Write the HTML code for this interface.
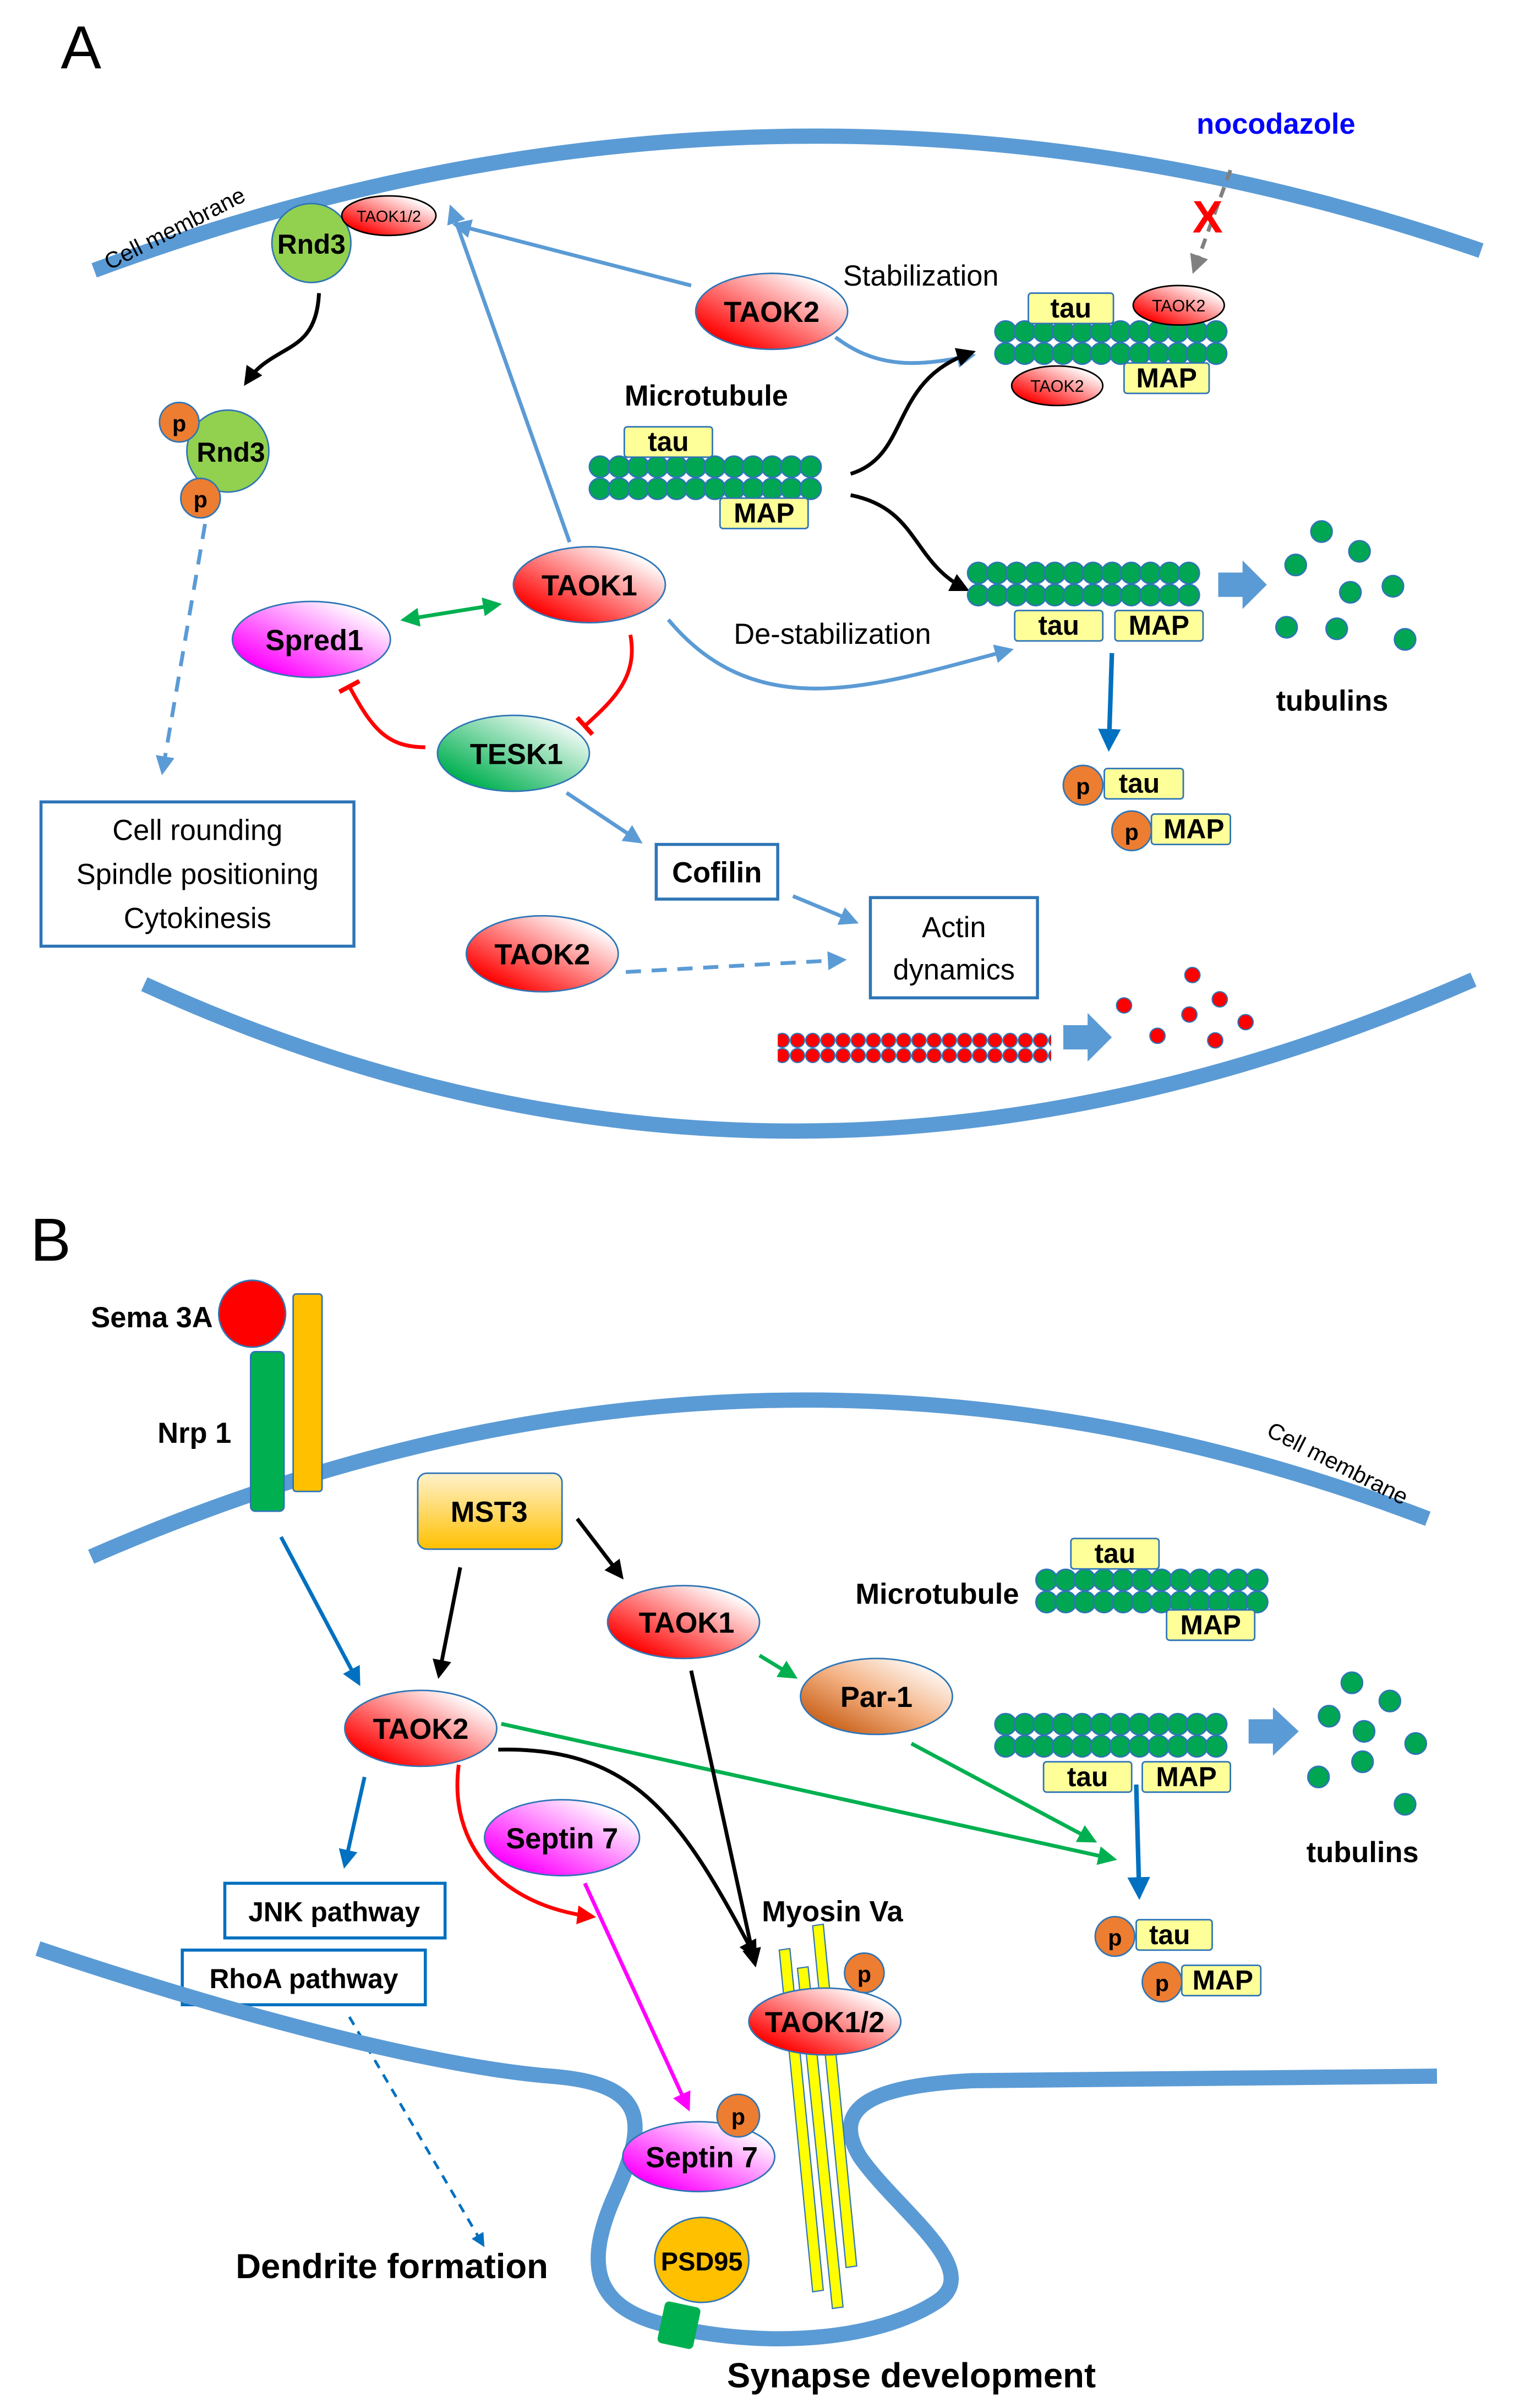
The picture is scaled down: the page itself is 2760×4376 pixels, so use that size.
<!DOCTYPE html>
<html><head><meta charset="utf-8"><style>html,body{margin:0;padding:0;background:#fff}svg{display:block}</style></head>
<body>
<svg width="2760" height="4376" viewBox="0 0 1000 1585.5" xmlns="http://www.w3.org/2000/svg" xmlns:xlink="http://www.w3.org/1999/xlink" font-family="Liberation Sans, sans-serif">
<defs>
<linearGradient id="gr" x1="0" y1="1" x2="1" y2="0"><stop offset="0.15" stop-color="#ff0000"/><stop offset="0.85" stop-color="#ffffff"/></linearGradient>
<linearGradient id="gm" x1="0" y1="1" x2="1" y2="0"><stop offset="0.15" stop-color="#ff00ff"/><stop offset="0.85" stop-color="#ffffff"/></linearGradient>
<linearGradient id="gg" x1="0" y1="1" x2="1" y2="0"><stop offset="0.15" stop-color="#00b050"/><stop offset="0.9" stop-color="#ffffff"/></linearGradient>
<linearGradient id="gb" x1="0" y1="1" x2="1" y2="0"><stop offset="0.1" stop-color="#c55a11"/><stop offset="0.5" stop-color="#f4b183"/><stop offset="0.9" stop-color="#ffffff"/></linearGradient>
<linearGradient id="gy" x1="0" y1="0" x2="0" y2="1"><stop offset="0" stop-color="#fff2cc"/><stop offset="1" stop-color="#ffc000"/></linearGradient>
<g id="mtr" fill="#00a651" stroke="#2e75b6" stroke-width="1">
<circle cx="7" cy="7.3" r="7"/><circle cx="19.6" cy="7.3" r="7"/><circle cx="32.2" cy="7.3" r="7"/><circle cx="44.8" cy="7.3" r="7"/><circle cx="57.4" cy="7.3" r="7"/><circle cx="70" cy="7.3" r="7"/><circle cx="82.6" cy="7.3" r="7"/><circle cx="95.2" cy="7.3" r="7"/><circle cx="107.8" cy="7.3" r="7"/><circle cx="120.4" cy="7.3" r="7"/><circle cx="133" cy="7.3" r="7"/><circle cx="145.6" cy="7.3" r="7"/>
</g>
<g id="mt"><use xlink:href="#mtr" href="#mtr"/><use xlink:href="#mtr" href="#mtr" y="14.5"/></g>
<pattern id="af" width="10" height="10" patternUnits="userSpaceOnUse"><circle cx="5" cy="5" r="4.6" fill="#ff0000" stroke="#2e75b6" stroke-width="0.8"/></pattern>
<marker id="ab" viewBox="0 0 10 10" refX="8" refY="5" markerWidth="5" markerHeight="5" orient="auto-start-reverse"><path d="M0,0L10,5L0,10z" fill="#5b9bd5"/></marker>
<marker id="abd" viewBox="0 0 10 10" refX="8" refY="5" markerWidth="5" markerHeight="5" orient="auto"><path d="M0,0L10,5L0,10z" fill="#0070c0"/></marker>
<marker id="ak" viewBox="0 0 10 10" refX="8" refY="5" markerWidth="5" markerHeight="5" orient="auto"><path d="M0,0L10,5L0,10z" fill="#000"/></marker>
<marker id="ag" viewBox="0 0 10 10" refX="8" refY="5" markerWidth="5" markerHeight="5" orient="auto-start-reverse"><path d="M0,0L10,5L0,10z" fill="#00b050"/></marker>
<marker id="ar" viewBox="0 0 10 10" refX="8" refY="5" markerWidth="5" markerHeight="5" orient="auto"><path d="M0,0L10,5L0,10z" fill="#ff0000"/></marker>
<marker id="amg" viewBox="0 0 10 10" refX="8" refY="5" markerWidth="5" markerHeight="5" orient="auto"><path d="M0,0L10,5L0,10z" fill="#ff00ff"/></marker>
<marker id="agr" viewBox="0 0 10 10" refX="8" refY="5" markerWidth="5" markerHeight="5" orient="auto"><path d="M0,0L10,5L0,10z" fill="#808080"/></marker>
<marker id="tb" viewBox="0 0 10 10" refX="5" refY="5" markerWidth="6" markerHeight="6" orient="auto"><path d="M5,0L5,10" stroke="#ff0000" stroke-width="2"/></marker>
</defs>

<g font-weight="bold">
<!-- ============ PANEL A ============ -->
<text x="40" y="45" font-size="40" font-weight="normal">A</text>
<path d="M62,178 Q520,8 975,165" fill="none" stroke="#5b9bd5" stroke-width="10"/>
<path d="M95,648 Q520,843 970,645" fill="none" stroke="#5b9bd5" stroke-width="10"/>
<text x="0" y="0" font-size="15" font-weight="normal" transform="translate(72,178) rotate(-27)">Cell membrane</text>

<circle cx="205" cy="160" r="26" fill="#92d050" stroke="#2e75b6"/>
<text x="205" y="167" font-size="18" text-anchor="middle">Rnd3</text>
<ellipse cx="256" cy="142" rx="31" ry="13" fill="url(#gr)" stroke="#000" stroke-width="1"/>
<text x="256" y="146" font-size="10.5" text-anchor="middle" font-weight="normal">TAOK1/2</text>
<path d="M210,193 C208,235 180,225 162,252" fill="none" stroke="#000" stroke-width="2.5" marker-end="url(#ak)"/>
<circle cx="150" cy="297" r="27" fill="#92d050" stroke="#2e75b6"/>
<text x="152" y="304" font-size="18" text-anchor="middle">Rnd3</text>
<circle cx="118" cy="278" r="13" fill="#ed7d31" stroke="#2e75b6"/><text x="118" y="284" font-size="15" text-anchor="middle">p</text>
<circle cx="132" cy="328" r="13" fill="#ed7d31" stroke="#2e75b6"/><text x="132" y="334" font-size="15" text-anchor="middle">p</text>
<path d="M135,345 L107,508" fill="none" stroke="#5b9bd5" stroke-width="2.5" stroke-dasharray="10,7" marker-end="url(#ab)"/>
<rect x="27" y="528" width="206" height="95" fill="#fff" stroke="#2e75b6" stroke-width="2"/>
<g font-weight="normal" font-size="19" text-anchor="middle"><text x="130" y="553">Cell rounding</text><text x="130" y="582">Spindle positioning</text><text x="130" y="611">Cytokinesis</text></g>

<path d="M455,188 L300,148" stroke="#5b9bd5" stroke-width="2.5" marker-end="url(#ab)"/>
<path d="M375,357 L297,137" stroke="#5b9bd5" stroke-width="2.5" marker-end="url(#ab)"/>
<ellipse cx="508" cy="205" rx="50" ry="25" fill="url(#gr)" stroke="#2e75b6"/>
<text x="508" y="212" font-size="19" text-anchor="middle">TAOK2</text>
<text x="555" y="188" font-size="19" font-weight="normal">Stabilization</text>
<path d="M550,222 C580,245 610,240 640,234" fill="none" stroke="#5b9bd5" stroke-width="2.5" marker-end="url(#ab)"/>

<use xlink:href="#mt" href="#mt" x="655" y="211"/>
<rect x="677" y="193" width="56" height="20" rx="2" fill="#ffff99" stroke="#2e75b6"/><text x="705" y="209" font-size="18" text-anchor="middle">tau</text>
<ellipse cx="776" cy="201" rx="30" ry="13" fill="url(#gr)" stroke="#000"/><text x="776" y="205" font-size="11" text-anchor="middle" font-weight="normal">TAOK2</text>
<ellipse cx="696" cy="254" rx="30" ry="13" fill="url(#gr)" stroke="#000"/><text x="696" y="258" font-size="11" text-anchor="middle" font-weight="normal">TAOK2</text>
<rect x="740" y="239" width="56" height="20" rx="2" fill="#ffff99" stroke="#2e75b6"/><text x="768" y="255" font-size="18" text-anchor="middle">MAP</text>
<text x="840" y="88" font-size="19" fill="#0000ff" text-anchor="middle">nocodazole</text>
<path d="M810,112 L786,178" stroke="#808080" stroke-width="2.5" stroke-dasharray="7,5" marker-end="url(#agr)"/>
<text x="795" y="153" font-size="30" fill="#ff0000" text-anchor="middle">X</text>

<text x="465" y="267" font-size="19" text-anchor="middle">Microtubule</text>
<use xlink:href="#mt" href="#mt" x="388" y="300"/>
<rect x="411" y="281" width="58" height="20" rx="2" fill="#ffff99" stroke="#2e75b6"/><text x="440" y="297" font-size="18" text-anchor="middle">tau</text>
<rect x="474" y="328" width="58" height="20" rx="2" fill="#ffff99" stroke="#2e75b6"/><text x="503" y="344" font-size="18" text-anchor="middle">MAP</text>
<path d="M560,312 C600,300 585,250 640,232" fill="none" stroke="#000" stroke-width="2.5" marker-end="url(#ak)"/>
<path d="M560,326 C605,335 600,370 636,388" fill="none" stroke="#000" stroke-width="2.5" marker-end="url(#ak)"/>

<use xlink:href="#mt" href="#mt" x="637" y="370"/>
<rect x="668" y="402" width="58" height="20" rx="2" fill="#ffff99" stroke="#2e75b6"/><text x="697" y="418" font-size="18" text-anchor="middle">tau</text>
<rect x="734" y="402" width="58" height="20" rx="2" fill="#ffff99" stroke="#2e75b6"/><text x="763" y="418" font-size="18" text-anchor="middle">MAP</text>
<path d="M802,377 L818,377 L818,369 L834,385 L818,401 L818,393 L802,393z" fill="#5b9bd5"/>
<g fill="#00a651" stroke="#2e75b6"><circle cx="870" cy="350" r="7"/><circle cx="895" cy="363" r="7"/><circle cx="853" cy="372" r="7"/><circle cx="917" cy="386" r="7"/><circle cx="889" cy="390" r="7"/><circle cx="847" cy="413" r="7"/><circle cx="880" cy="414" r="7"/><circle cx="925" cy="421" r="7"/></g>
<text x="877" y="468" font-size="19" text-anchor="middle">tubulins</text>
<path d="M440,408 C500,480 580,450 665,428" fill="none" stroke="#5b9bd5" stroke-width="2.5" marker-end="url(#ab)"/>
<text x="548" y="424" font-size="19" font-weight="normal" text-anchor="middle">De-stabilization</text>
<path d="M732,430 L730,492" stroke="#0070c0" stroke-width="3" marker-end="url(#abd)"/>
<rect x="727" y="506" width="52" height="20" rx="2" fill="#ffff99" stroke="#2e75b6"/><text x="750" y="522" font-size="18" text-anchor="middle">tau</text>
<circle cx="713" cy="517" r="13" fill="#ed7d31" stroke="#2e75b6"/><text x="713" y="523" font-size="15" text-anchor="middle">p</text>
<rect x="758" y="536" width="52" height="20" rx="2" fill="#ffff99" stroke="#2e75b6"/><text x="786" y="552" font-size="18" text-anchor="middle">MAP</text>
<circle cx="745" cy="547" r="13" fill="#ed7d31" stroke="#2e75b6"/><text x="745" y="553" font-size="15" text-anchor="middle">p</text>

<ellipse cx="388" cy="385" rx="50" ry="25" fill="url(#gr)" stroke="#2e75b6"/>
<text x="388" y="392" font-size="19" text-anchor="middle">TAOK1</text>
<ellipse cx="205" cy="421" rx="52" ry="25" fill="url(#gm)" stroke="#2e75b6"/>
<text x="207" y="428" font-size="19" text-anchor="middle">Spred1</text>
<path d="M266,408 L328,398" stroke="#00b050" stroke-width="2.5" marker-start="url(#ag)" marker-end="url(#ag)"/>
<ellipse cx="338" cy="496" rx="50" ry="25" fill="url(#gg)" stroke="#2e75b6"/>
<text x="340" y="503" font-size="19" text-anchor="middle">TESK1</text>
<path d="M415,418 C420,445 405,460 385,478" fill="none" stroke="#ff0000" stroke-width="2.5" marker-end="url(#tb)"/>
<path d="M280,492 C255,492 245,480 230,452" fill="none" stroke="#ff0000" stroke-width="2.5" marker-end="url(#tb)"/>

<path d="M373,522 L421,554" stroke="#5b9bd5" stroke-width="2.5" marker-end="url(#ab)"/>
<rect x="432" y="556" width="80" height="36" fill="#fff" stroke="#2e75b6" stroke-width="2"/>
<text x="472" y="581" font-size="19" text-anchor="middle">Cofilin</text>
<path d="M522,590 L563,607" stroke="#5b9bd5" stroke-width="2.5" marker-end="url(#ab)"/>
<rect x="573" y="591" width="110" height="66" fill="#fff" stroke="#2e75b6" stroke-width="2"/>
<g font-weight="normal" font-size="19" text-anchor="middle"><text x="628" y="617">Actin</text><text x="628" y="645">dynamics</text></g>
<ellipse cx="357" cy="628" rx="50" ry="25" fill="url(#gr)" stroke="#2e75b6"/>
<text x="357" y="635" font-size="19" text-anchor="middle">TAOK2</text>
<path d="M412,640 L555,632" stroke="#5b9bd5" stroke-width="2.5" stroke-dasharray="10,7" marker-end="url(#ab)"/>
<rect x="512" y="680" width="180" height="20" fill="url(#af)"/>
<path d="M700,675 L716,675 L716,667 L732,683 L716,699 L716,691 L700,691z" fill="#5b9bd5"/>
<g fill="#ff0000" stroke="#2e75b6" stroke-width="0.8"><circle cx="740" cy="662" r="5"/><circle cx="762" cy="682" r="5"/><circle cx="785" cy="642" r="5"/><circle cx="783" cy="668" r="5"/><circle cx="803" cy="658" r="5"/><circle cx="800" cy="685" r="5"/><circle cx="820" cy="673" r="5"/></g>

<!-- ============ PANEL B ============ -->
<text x="20" y="830" font-size="40" font-weight="normal">B</text>
<path d="M60,1025 Q500,832 940,1000" fill="none" stroke="#5b9bd5" stroke-width="10"/>
<text x="0" y="0" font-size="15" font-weight="normal" transform="translate(833,945) rotate(27)">Cell membrane</text>
<text x="100" y="874" font-size="19" text-anchor="middle">Sema 3A</text>
<circle cx="166" cy="865" r="22" fill="#ff0000" stroke="#2e75b6"/>
<rect x="165" y="890" width="22" height="105" rx="3" fill="#00b050" stroke="#2e75b6"/>
<rect x="193" y="852" width="19" height="130" rx="2" fill="#ffc000" stroke="#2e75b6"/>
<text x="128" y="950" font-size="19" text-anchor="middle">Nrp 1</text>

<rect x="275" y="970" width="95" height="50" rx="6" fill="url(#gy)" stroke="#2e75b6"/>
<text x="322" y="1002" font-size="19" text-anchor="middle">MST3</text>
<path d="M380,1000 L409,1038" stroke="#000" stroke-width="2.5" marker-end="url(#ak)"/>
<path d="M303,1032 L289,1103" stroke="#000" stroke-width="2.5" marker-end="url(#ak)"/>
<path d="M185,1012 L236,1108" stroke="#0070c0" stroke-width="2.5" marker-end="url(#abd)"/>

<path d="M330,1135 L733,1224" stroke="#00b050" stroke-width="2.5" marker-end="url(#ag)"/>
<path d="M600,1148 L720,1212" stroke="#00b050" stroke-width="2.5" marker-end="url(#ag)"/>
<path d="M500,1090 L523,1104" stroke="#00b050" stroke-width="2.5" marker-end="url(#ag)"/>
<path d="M328,1152 C420,1150 450,1200 497,1288" fill="none" stroke="#000" stroke-width="2.5" marker-end="url(#ak)"/>
<path d="M455,1100 L497,1293" stroke="#000" stroke-width="2.5" marker-end="url(#ak)"/>
<path d="M302,1162 C295,1215 330,1255 390,1262" fill="none" stroke="#ff0000" stroke-width="2.5" marker-end="url(#ar)"/>
<path d="M385,1240 L453,1388" stroke="#ff00ff" stroke-width="2.5" marker-end="url(#amg)"/>

<ellipse cx="277" cy="1138" rx="50" ry="25" fill="url(#gr)" stroke="#2e75b6"/>
<text x="277" y="1145" font-size="19" text-anchor="middle">TAOK2</text>
<ellipse cx="450" cy="1068" rx="50" ry="24" fill="url(#gr)" stroke="#2e75b6"/>
<text x="452" y="1075" font-size="19" text-anchor="middle">TAOK1</text>
<ellipse cx="577" cy="1117" rx="50" ry="25" fill="url(#gb)" stroke="#2e75b6"/>
<text x="577" y="1124" font-size="19" text-anchor="middle">Par-1</text>

<text x="617" y="1056" font-size="19" text-anchor="middle">Microtubule</text>
<use xlink:href="#mt" href="#mt" x="682" y="1033"/>
<rect x="705" y="1013" width="58" height="20" rx="2" fill="#ffff99" stroke="#2e75b6"/><text x="734" y="1029" font-size="18" text-anchor="middle">tau</text>
<rect x="768" y="1060" width="58" height="20" rx="2" fill="#ffff99" stroke="#2e75b6"/><text x="797" y="1076" font-size="18" text-anchor="middle">MAP</text>
<use xlink:href="#mt" href="#mt" x="655" y="1128"/>
<rect x="687" y="1160" width="58" height="20" rx="2" fill="#ffff99" stroke="#2e75b6"/><text x="716" y="1176" font-size="18" text-anchor="middle">tau</text>
<rect x="752" y="1160" width="58" height="20" rx="2" fill="#ffff99" stroke="#2e75b6"/><text x="781" y="1176" font-size="18" text-anchor="middle">MAP</text>
<path d="M822,1132 L838,1132 L838,1124 L855,1140 L838,1156 L838,1148 L822,1148z" fill="#5b9bd5"/>
<g fill="#00a651" stroke="#2e75b6"><circle cx="890" cy="1108" r="7"/><circle cx="915" cy="1120" r="7"/><circle cx="875" cy="1130" r="7"/><circle cx="898" cy="1140" r="7"/><circle cx="932" cy="1148" r="7"/><circle cx="868" cy="1170" r="7"/><circle cx="897" cy="1160" r="7"/><circle cx="925" cy="1188" r="7"/></g>
<text x="897" y="1226" font-size="19" text-anchor="middle">tubulins</text>
<path d="M748,1175 L750,1248" stroke="#0070c0" stroke-width="3" marker-end="url(#abd)"/>
<rect x="748" y="1264" width="50" height="20" rx="2" fill="#ffff99" stroke="#2e75b6"/><text x="770" y="1280" font-size="18" text-anchor="middle">tau</text>
<circle cx="734" cy="1275" r="13" fill="#ed7d31" stroke="#2e75b6"/><text x="734" y="1281" font-size="15" text-anchor="middle">p</text>
<rect x="778" y="1294" width="52" height="20" rx="2" fill="#ffff99" stroke="#2e75b6"/><text x="805" y="1310" font-size="18" text-anchor="middle">MAP</text>
<circle cx="765" cy="1305" r="13" fill="#ed7d31" stroke="#2e75b6"/><text x="765" y="1311" font-size="15" text-anchor="middle">p</text>

<path d="M240,1170 L227,1228" stroke="#0070c0" stroke-width="2.5" marker-end="url(#abd)"/>
<rect x="148" y="1240" width="145" height="36" fill="#fff" stroke="#0070c0" stroke-width="2"/>
<text x="220" y="1265" font-size="18" text-anchor="middle">JNK pathway</text>
<rect x="120" y="1284" width="160" height="36" fill="#fff" stroke="#0070c0" stroke-width="2"/>
<text x="200" y="1309" font-size="18" text-anchor="middle">RhoA pathway</text>
<path d="M230,1328 L318,1478" stroke="#0070c0" stroke-width="1.8" stroke-dasharray="6,5" marker-end="url(#abd)"/>
<text x="258" y="1500" font-size="23" text-anchor="middle">Dendrite formation</text>

<ellipse cx="370" cy="1210" rx="51" ry="25" fill="url(#gm)" stroke="#2e75b6"/>
<text x="370" y="1217" font-size="19" text-anchor="middle">Septin 7</text>
<text x="548" y="1265" font-size="19" text-anchor="middle">Myosin Va</text>

<!-- bottom membrane -->
<path d="M25,1283 C150,1325 280,1360 362,1367 C430,1372 425,1400 405,1445 C385,1490 390,1518 435,1530 C490,1545 570,1545 616,1516 C650,1495 590,1455 566,1420 C545,1385 580,1373 640,1370 L946,1367" fill="none" stroke="#5b9bd5" stroke-width="10"/>

<g fill="#ffff00" stroke="#2e75b6" stroke-width="0.8">
<path d="M513,1284 L520,1283 L542,1508 L535,1509z"/>
<path d="M525,1296 L532,1295 L555,1519 L548,1520z"/>
<path d="M535,1268 L542,1267 L564,1492 L557,1493z"/>
</g>
<ellipse cx="543" cy="1331" rx="50" ry="22" fill="url(#gr)" stroke="#2e75b6"/>
<text x="543" y="1338" font-size="19" text-anchor="middle">TAOK1/2</text>
<circle cx="569" cy="1299" r="13" fill="#ed7d31" stroke="#2e75b6"/><text x="569" y="1305" font-size="15" text-anchor="middle">p</text>
<ellipse cx="460" cy="1420" rx="50" ry="23" fill="url(#gm)" stroke="#2e75b6"/>
<text x="462" y="1427" font-size="19" text-anchor="middle">Septin 7</text>
<circle cx="486" cy="1393" r="14" fill="#ed7d31" stroke="#2e75b6"/><text x="486" y="1399" font-size="15" text-anchor="middle">p</text>
<ellipse cx="462" cy="1488" rx="31" ry="28" fill="#ffc000" stroke="#2e75b6"/>
<text x="462" y="1495" font-size="17" text-anchor="middle">PSD95</text>
<rect x="-12" y="-14" width="24" height="28" rx="3" fill="#00b050" transform="translate(447,1531) rotate(12)"/>
<text x="600" y="1572" font-size="23" text-anchor="middle">Synapse development</text>
</g>
</svg>
</body></html>
